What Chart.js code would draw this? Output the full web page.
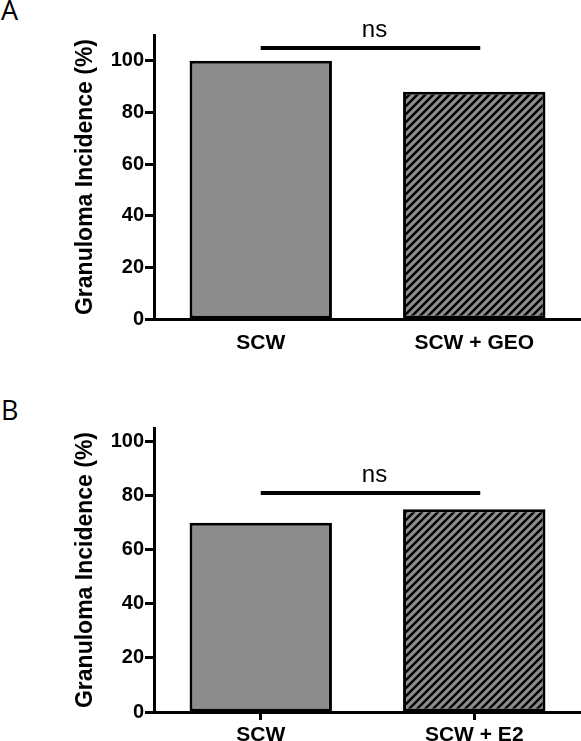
<!DOCTYPE html>
<html>
<head>
<meta charset="utf-8">
<script src="https://cdn.jsdelivr.net/npm/chart.js@4.4.1/dist/chart.umd.min.js"></script>
<style>
    html, body { margin: 0; padding: 0; background: #fff; }
    body { width: 581px; height: 741px; position: relative; overflow: hidden; }
    .panel { position: absolute; left: 0; width: 581px; }
    .panel-letter {
        position: absolute; left: 1px;
        font-family: "Open Sans", "Noto Sans", sans-serif; font-size: 27px; color: #000;
    }
</style>
</head>
<body>
<div class="panel-letter" style="top: -9px;">A</div>
<div class="panel-letter" style="top: 391px;">B</div>
<div class="panel" style="top: 0; height: 359px;"><canvas id="chartA"></canvas></div>
<div class="panel" style="top: 390px; height: 351px;"><canvas id="chartB"></canvas></div>

<script>
// ==================== DATA ====================

const categoriesA = ['SCW', 'SCW + GEO'];
const incidenceA = [100, 88];
const sigLevelA = 105;   // height of the "ns" bracket, in % units

const categoriesB = ['SCW', 'SCW + E2'];
const incidenceB = [70, 75];
const sigLevelB = 81;

const yTicks = [0, 20, 40, 60, 80, 100];
const sigLabel = 'ns';
const yTitle = 'Granuloma Incidence (%)';

// ==================== HELPERS ====================

const BAR_GRAY = '#8c8c8c';
const FONT = '"Liberation Sans", Arial, sans-serif';

// Diagonal black hatch over gray, lines running bottom-left to top-right
function makeHatch() {
    const size = 8;
    const c = document.createElement('canvas');
    c.width = size;
    c.height = size;
    const g = c.getContext('2d');
    g.fillStyle = BAR_GRAY;
    g.fillRect(0, 0, size, size);
    g.strokeStyle = '#000';
    g.lineWidth = 2.4;
    g.beginPath();
    g.moveTo(-2, size + 2); g.lineTo(size + 2, -2);
    g.moveTo(-2, 2); g.lineTo(2, -2);
    g.moveTo(size - 2, size + 2); g.lineTo(size + 2, size - 2);
    g.stroke();
    return g.createPattern(c, 'repeat');
}

// Draws the "ns" comparison bar between the two category centres
const sigBracket = {
    id: 'sigBracket',
    afterDatasetsDraw(chart, args, opts) {
        const { ctx, scales: { x, y } } = chart;
        const x0 = x.getPixelForValue(0);
        const x1 = x.getPixelForValue(1) + 6;
        const yy = y.getPixelForValue(opts.level);
        ctx.save();
        ctx.strokeStyle = '#000';
        ctx.lineWidth = 4;
        ctx.beginPath();
        ctx.moveTo(x0, yy);
        ctx.lineTo(x1, yy);
        ctx.stroke();
        ctx.fillStyle = '#000';
        ctx.font = '24px ' + FONT;
        ctx.textAlign = 'center';
        ctx.textBaseline = 'alphabetic';
        ctx.fillText(sigLabel, (x0 + x1) / 2 + 4, yy - 11);
        ctx.restore();
    }
};

function buildChart(canvasId, labels, values, opts) {
    const ctx = document.getElementById(canvasId);
    return new Chart(ctx, {
        type: 'bar',
        data: {
            labels: labels,
            datasets: [{
                data: values,
                backgroundColor: [BAR_GRAY, makeHatch()],
                borderColor: '#000',
                borderWidth: 3,
                borderSkipped: false,
                barPercentage: 0.667,
                categoryPercentage: 1
            }]
        },
        options: {
            responsive: true,
            maintainAspectRatio: false,
            animation: false,
            layout: { padding: { top: opts.padTop, right: 0, bottom: 0, left: 0 } },
            scales: {
                x: {
                    offset: true,
                    grid: {
                        offset: false,
                        drawOnChartArea: false,
                        drawTicks: opts.xTicks,
                        tickLength: 8,
                        tickWidth: 3,
                        tickColor: '#000'
                    },
                    border: { display: true, color: '#000', width: 3 },
                    ticks: {
                        color: '#000',
                        padding: opts.xTicks ? 3 : 12,
                        maxRotation: 0,
                        font: { family: FONT, size: 21, weight: 'bold' }
                    },
                    afterFit: scale => { scale.height = opts.xHeight; }
                },
                y: {
                    min: 0,
                    max: opts.yMax,
                    afterBuildTicks: axis => {
                        axis.ticks = yTicks.map(v => ({ value: v }));
                    },
                    grid: {
                        drawOnChartArea: false,
                        drawTicks: true,
                        tickLength: 9,
                        tickWidth: 3,
                        tickColor: '#000'
                    },
                    border: { display: true, color: '#000', width: 3 },
                    ticks: {
                        color: '#000',
                        padding: 1,
                        font: { family: FONT, size: 20, weight: 'bold' }
                    },
                    title: {
                        display: true,
                        text: yTitle,
                        color: '#000',
                        padding: { top: 72, bottom: 0 },
                        font: { family: FONT, size: 23, weight: 'bold' }
                    },
                    afterFit: scale => { scale.width = 154; }
                }
            },
            plugins: {
                legend: { display: false },
                tooltip: { enabled: false },
                sigBracket: { level: opts.sigLevel }
            }
        },
        plugins: [sigBracket]
    });
}

// ==================== CHARTS ====================

buildChart('chartA', categoriesA, incidenceA, {
    yMax: 110, padTop: 35, xHeight: 40, xTicks: false, sigLevel: sigLevelA
});

buildChart('chartB', categoriesB, incidenceB, {
    yMax: 105, padTop: 38, xHeight: 29, xTicks: true, sigLevel: sigLevelB
});
</script>
</body>
</html>
